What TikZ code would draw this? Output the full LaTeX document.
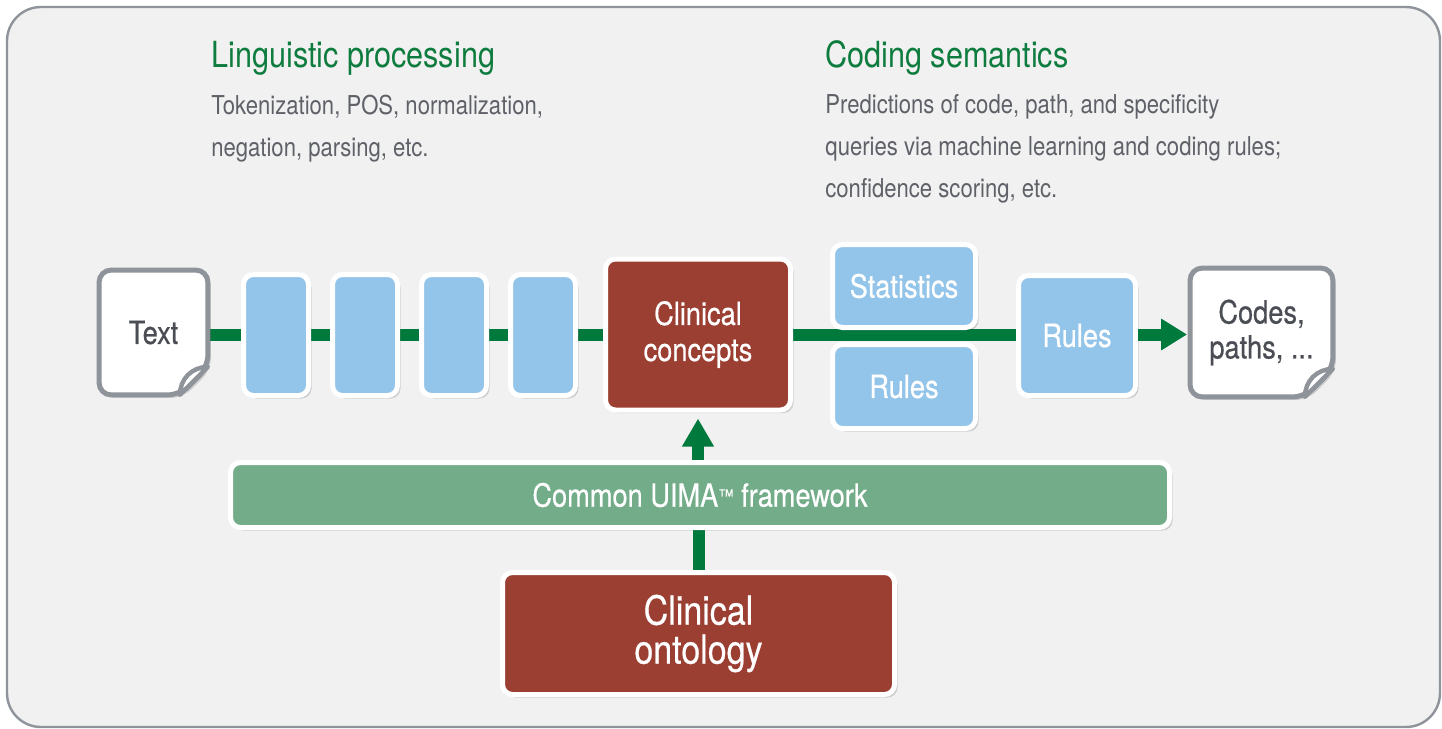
\documentclass[tikz,border=0pt]{standalone}
\usepackage{fontspec}
\setmainfont{TeX Gyre Heros}[FakeStretch=0.85]
\newfontfamily\medfont{TeX Gyre Heros}[FakeStretch=0.85,FakeBold=0.5]
\usetikzlibrary{arrows.meta,shadows,calc}
\pgfdeclarelayer{frame}
\pgfdeclarelayer{bg}
\pgfsetlayers{frame,bg,main}
\definecolor{framebg}{HTML}{F1F1F1}
\definecolor{framegray}{HTML}{8F939A}
\definecolor{titlegreen}{HTML}{0E7C3E}
\definecolor{bodygray}{HTML}{5F6168}
\definecolor{doctext}{HTML}{4A4E54}
\definecolor{docgray}{HTML}{8F939A}
\definecolor{boxblue}{HTML}{93C4E9}
\definecolor{boxred}{HTML}{9C3F33}
\definecolor{uimagreen}{HTML}{72AC89}
\definecolor{conngreen}{HTML}{007A3C}
\begin{document}
\begin{tikzpicture}[x=0.5pt,y=-0.5pt,
  softshadow/.style={drop shadow={shadow xshift=1.5pt,shadow yshift=-1.5pt,opacity=0.15,fill=black}},
  box/.style={rounded corners=5pt,draw=white,line width=2.5pt,inner sep=0pt,text=white,
    font=\medfont\fontsize{16}{18}\selectfont,align=center,softshadow},
  bluebox/.style={box,fill=boxblue},
  redbox/.style={box,fill=boxred},
  docnode/.style={inner sep=0pt,text=doctext,font=\medfont\fontsize{16}{17.5}\selectfont,align=center},
  docline/.style={draw=docgray,line width=2.5pt,fill=white,rounded corners=6pt},
  leaf/.style={draw=docgray,line width=2.2pt,fill=white,line join=round},
  conn/.style={draw=conngreen,line width=6pt},
  titletext/.style={anchor=base west,inner sep=0pt,text=titlegreen,font=\fontsize{18}{21}\selectfont},
  bodytext/.style={anchor=base west,inner sep=0pt,text=bodygray,align=left,font=\fontsize{13}{21}\selectfont}
]
\useasboundingbox (0,0) rectangle (1442,729);
\begin{pgfonlayer}{frame}
\path[draw=framegray,line width=1.2pt,fill=framebg,rounded corners=17pt] (7,7) rectangle (1440,727);
\end{pgfonlayer}

% headings (base anchor = baseline of the last line)
\node[titletext] (h1) at (211,67) {Linguistic processing};
\node[bodytext] (d1) at (211,156) {Tokenization, POS, normalization,\\negation, parsing, etc.};
\node[titletext] (h2) at (825,67) {Coding semantics};
\node[bodytext] (d2) at (825,197) {Predictions of code, path, and specificity\\queries via machine learning and coding rules;\\confidence scoring, etc.};

% pipeline nodes
\node[docnode,minimum width=54pt,minimum height=62pt] (text) at (153.5,332.5) {};
\node[bluebox,minimum width=32.5pt,minimum height=60.5pt] (b1) at (276,335) {};
\node[bluebox,minimum width=32.5pt,minimum height=60.5pt] (b2) at (365,335) {};
\node[bluebox,minimum width=32.5pt,minimum height=60.5pt] (b3) at (454,335) {};
\node[bluebox,minimum width=32.5pt,minimum height=60.5pt] (b4) at (543,335) {};
\node[redbox,minimum width=92.5pt,minimum height=75.5pt] (cc) at (698,334.5) {Clinical\\concepts};
\node[bluebox,minimum width=71.5pt,minimum height=41.5pt] (stat) at (904,286) {Statistics};
\node[bluebox,minimum width=71.5pt,minimum height=42pt] (rules1) at (904,386.5) {Rules};
\node[bluebox,minimum width=58.5pt,minimum height=60pt] (rules2) at (1077,335.5) {Rules};
\node[docnode,minimum width=71pt,minimum height=64pt] (codes) at (1261.5,332.5) {};
\node[box,fill=uimagreen,minimum width=469.5pt,minimum height=32.5pt] (uima) at (700,495)
  {Common UIMA{\fontsize{9}{9}\selectfont\raisebox{0.45ex}{™}} framework};
\node[redbox,minimum width=196pt,minimum height=61pt,font=\medfont\fontsize{20}{19.5}\selectfont] (onto) at (698.5,633.5) {Clinical\\ontology};

% document outlines
\foreach \d in {text,codes}{
  \draw[docline,softshadow] ([yshift=14pt]\d.south east) -- ([xshift=-14pt]\d.south east)
     -- (\d.south west) -- (\d.north west) -- (\d.north east) -- cycle;
  \draw[leaf] ([yshift=14pt]\d.south east)
     .. controls ([xshift=-8pt,yshift=14pt]\d.south east) and ([xshift=-14pt,yshift=8pt]\d.south east)
     .. ([xshift=-14pt]\d.south east) -- cycle;
}
\node[docnode] (textlabel) at (text) {Text};
\node[docnode] (codeslabel) at (codes) {Codes,\\paths, ...};

% connectors
\begin{pgfonlayer}{bg}
  \draw[conn] (text.center |- cc) -- (cc -| rules2);
  \draw[conn] (onto.north) -- (onto.north |- uima.south);
\end{pgfonlayer}
\draw[conn,-{Triangle[length=13pt,width=15pt]}] (rules2.east |- cc) -- ([xshift=-1.5pt]codes.west |- cc);
\draw[conn,-{Triangle[length=14pt,width=15pt]}] (cc.south |- uima.north) -- ([yshift=-3pt]cc.south);
\end{tikzpicture}
\end{document}
